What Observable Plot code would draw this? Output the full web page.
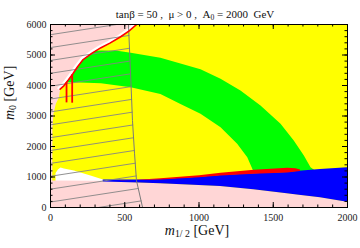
<!DOCTYPE html>
<html><head><meta charset="utf-8">
<script src="https://cdn.jsdelivr.net/npm/d3@7"></script>
<script src="https://cdn.jsdelivr.net/npm/@observablehq/plot@0.6"></script>
<style>body{margin:0;background:#fff}</style>
</head><body><div id="chart"></div>
<script>
// ---- tick values ----
const xTicks = [0, 500, 1000, 1500, 2000];
const yTicks = [0, 1000, 2000, 3000, 4000, 5000, 6000];
const xMinor = [0,100,200,300,400,500,600,700,800,900,1000,1100,1200,1300,1400,1500,1600,1700,1800,1900,2000];
const yMinor = [0,200,400,600,800,1000,1200,1400,1600,1800,2000,2200,2400,2600,2800,3000,3200,3400,3600,3800,4000,4200,4400,4600,4800,5000,5200,5400,5600,5800,6000];

// ---- regions (m1/2, m0) in GeV ----
const greenBand = [[200,5110],[340,5150],[450,5140],[540,5075],[740,4910],[875,4720],[1010,4530],[1145,4220],[1279,3836],[1414,3344],[1549,2743],[1638,2197],[1706,1705],[1751,1322],[1800,1150],
                   [1370,1150],[1325,1650],[1257,2088],[1145,2634],[1010,3071],[875,3390],[740,3720],[540,3940],[340,4070],[150,4110],[80,4110]];
const boundaryCurve = [[65,3880],[90,3990],[120,4180],[150,4380],[180,4600],[220,4850],[280,5060],[340,5240],[400,5390],[470,5590],[530,5790],[580,6000]];
const leftEdge = [[0,870],[12,870],[13,2600],[20,3070],[36,3400],[58,3620]];
const whiteRegion = [[34,862],[34,1130],[50,1250],[67,1310],[90,1280],[157,1213],[269,1049],[359,912],[359,862]];
const pinkBottom = [[0,866],[355,862],[600,805],[741,776],[1000,720],[1145,689],[1369,580],[1594,448],[1818,318],[2000,170]];
const blueX      = [355, 600, 741, 1000, 1145, 1369, 1594, 1675, 1818, 2000];
const blueTop    = [905, 905, 918,  995, 1049, 1104, 1147, 1190, 1246, 1301];
const blueBottom = [840, 805, 776,  720,  689,  580,  448,  400,  318,  170];
const redBand = [[470,890],[560,905],[741,962],[1000,1060],[1145,1137],[1369,1235],[1594,1300],[1650,1290],[1680,1245],
                 [1680,1195],[1594,1147],[1369,1104],[1145,1049],[1000,995],[741,918],[560,900],[470,885]];
const spikes = [{x:108, top:4100, bottom:3430},{x:146, top:4350, bottom:3420}];
const grayLine = [[525,6000],[543,3950],[552,2850],[566,1760],[579,885],[620,0]];
const hatchSlope = 0.75;
const hatchIntercepts = [-242,180,602,1024,1446,1868,2290,2712,3134,3556,3978,4400,4822,5244,5666];

// ---- layout ----
const W = 360, H = 248, mL = 50, mR = 13, mT = 24, mB = 41;
const fh = H - mT - mB, fw = W - mL - mR;

// hatch segments from x=0 (or y=0) to the gray boundary (or the top)
const hatch = [];
hatchIntercepts.forEach((c, k) => {
  const s = hatchSlope;
  let x0 = 0, y0 = c;
  if (c < 0) { x0 = -c / s; y0 = 0; }
  let xe, ye;
  for (let i = 0; i < grayLine.length - 1; i++) {
    const [bx1, by1] = grayLine[i], [bx2, by2] = grayLine[i+1];
    const t = (c + s*bx1 - by1) / ((by2 - by1) - s*(bx2 - bx1));
    if (t >= 0 && t <= 1) { xe = bx1 + t*(bx2 - bx1); ye = by1 + t*(by2 - by1); break; }
  }
  const xTop = (6000 - c) / s;
  if (xe === undefined || xTop < xe) { xe = xTop; ye = 6000; }
  hatch.push({x:x0, y:y0, k}, {x:xe, y:ye, k});
});

const pinkTopLeft = [...leftEdge, ...boundaryCurve, [0,6000]];
const blue = blueX.map((x,i) => ({x, y1: blueBottom[i], y2: blueTop[i]}));
const X = d => d[0], Y = d => d[1];
const serif = "'Liberation Serif','DejaVu Serif',Times,serif";

const plot = Plot.plot({
  width: W, height: H, marginLeft: mL, marginRight: mR, marginTop: mT, marginBottom: mB,
  x: {domain: [0, 2000]}, y: {domain: [0, 6000]},
  style: {fontFamily: serif, fontSize: "10px", background: "white"},
  marks: [
    Plot.frame({fill: "#ffff00", stroke: null}),
    Plot.line(greenBand, {x: X, y: Y, fill: "#00ff00", stroke: null}),
    Plot.line(pinkTopLeft, {x: X, y: Y, fill: "#ffd6d6", stroke: null}),
    Plot.line(whiteRegion, {x: X, y: Y, fill: "white", stroke: null}),
    Plot.areaY(pinkBottom, {x: X, y: Y, fill: "#ffd6d6"}),
    Plot.areaY(blue, {x: "x", y1: "y1", y2: "y2", fill: "#0000ff"}),
    Plot.line(redBand, {x: X, y: Y, fill: "#ff0000", stroke: null}),
    Plot.line(boundaryCurve, {x: X, y: Y, stroke: "white", strokeWidth: 2.5, dx: -1.5, dy: -1, clip: true}),
    Plot.line(hatch, {x: "x", y: "y", z: "k", stroke: "#858585", strokeWidth: 0.9}),
    Plot.line(grayLine, {x: X, y: Y, stroke: "#7a7a7a", strokeWidth: 1}),
    Plot.line(boundaryCurve, {x: X, y: Y, stroke: "#ff0000", strokeWidth: 1.6, clip: true}),
    Plot.ruleX(spikes, {x: "x", y1: "bottom", y2: "top", stroke: "#ff0000", strokeWidth: 1.8}),
    Plot.frame({stroke: "black"}),
    // inward ticks on four sides
    Plot.tickX(xMinor, {x: d => d, insetTop: fh - 2.5, stroke: "black"}),
    Plot.tickX(xMinor, {x: d => d, insetBottom: fh - 2.5, stroke: "black"}),
    Plot.tickX(xTicks, {x: d => d, insetTop: fh - 5, stroke: "black"}),
    Plot.tickX(xTicks, {x: d => d, insetBottom: fh - 5, stroke: "black"}),
    Plot.tickY(yMinor, {y: d => d, insetRight: fw - 2.5, stroke: "black"}),
    Plot.tickY(yMinor, {y: d => d, insetLeft: fw - 2.5, stroke: "black"}),
    Plot.tickY(yTicks, {y: d => d, insetRight: fw - 5, stroke: "black"}),
    Plot.tickY(yTicks, {y: d => d, insetLeft: fw - 5, stroke: "black"}),
    Plot.axisX(xTicks, {anchor: "bottom", tickSize: 0, tickPadding: 6, label: null, fontSize: 10, fill: "#222", tickFormat: d => String(d)}),
    Plot.axisY(yTicks, {anchor: "left", tickSize: 0, tickPadding: 4, label: null, fontSize: 10, fill: "#222", tickFormat: d => String(d)}),
    Plot.text(["@TITLE"], {frameAnchor: "top", dy: -14, dx: -4, fontSize: 11, fill: "#111"}),
    Plot.text(["@YLAB"], {frameAnchor: "left", dx: -41, dy: 4, rotate: -90, fontSize: 14, fill: "#111"}),
    Plot.text(["@XLAB"], {frameAnchor: "bottom", dy: 27, dx: -2, fontSize: 14, fill: "#111"})
  ]
});

// rich text with italic / subscripts
function rich(svg, key, parts) {
  d3.select(svg).selectAll("text").filter(function(){ return this.textContent === key; }).each(function(){
    const t = d3.select(this); t.text("");
    parts.forEach(p => {
      const ts = t.append("tspan").text(p.t);
      if (p.i) ts.attr("font-style", "italic");
      if (p.sub) ts.attr("font-size", "0.7em").attr("dy", "0.25em");
      if (p.up) ts.attr("dy", "-0.175em");
    });
  });
}
rich(plot, "@TITLE", [{t: "tanβ = 50 ,  μ > 0 ,  A"}, {t: "0", sub: true}, {t: " = 2000  GeV", up: true}]);
rich(plot, "@YLAB", [{t: "m", i: true}, {t: "0", sub: true}, {t: " [GeV]", up: true}]);
rich(plot, "@XLAB", [{t: "m", i: true}, {t: "1/ 2", sub: true}, {t: " [GeV]", up: true}]);

document.getElementById("chart").appendChild(plot);
</script></body></html>
